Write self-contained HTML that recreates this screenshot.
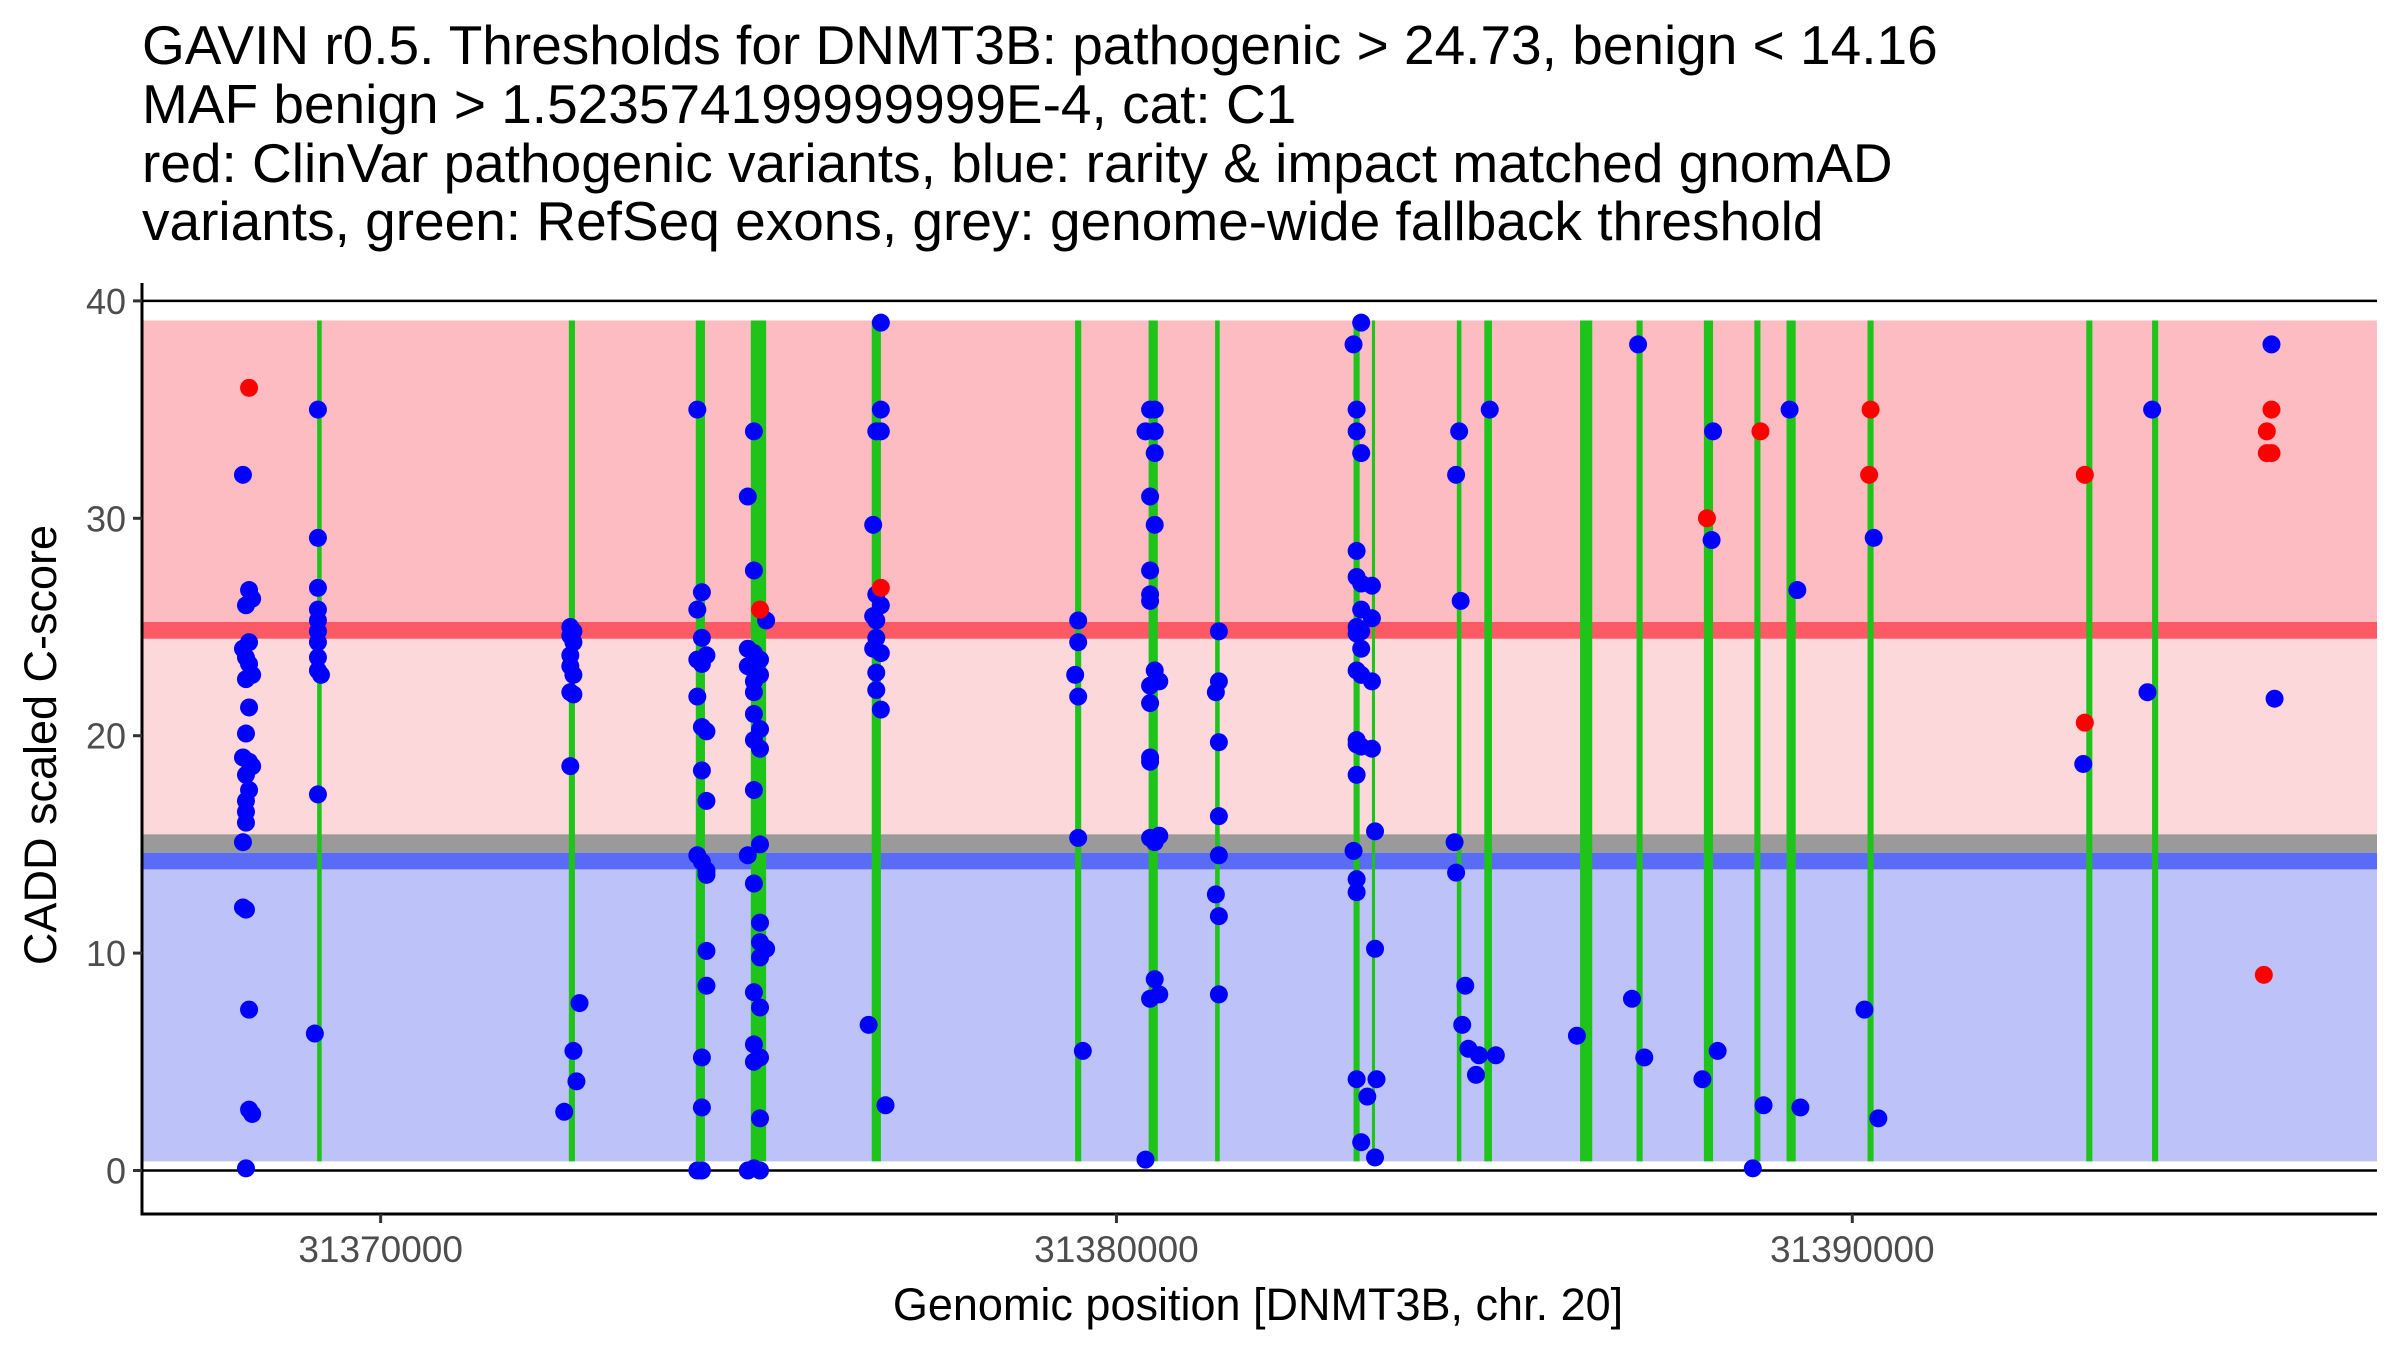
<!DOCTYPE html>
<html><head><meta charset="utf-8"><style>
html,body{margin:0;padding:0;background:#fff}
svg{display:block;font-family:"Liberation Sans",sans-serif}
</style></head><body>
<svg id="chart" width="2400" height="1350" viewBox="0 0 2400 1350">
<g font-size="55" fill="#000">
<text x="142" y="64">GAVIN r0.5. Thresholds for DNMT3B: pathogenic &gt; 24.73, benign &lt; 14.16</text>
<text x="142" y="123">MAF benign &gt; 1.523574199999999E-4, cat: C1</text>
<text x="142" y="182">red: ClinVar pathogenic variants, blue: rarity &amp; impact matched gnomAD</text>
<text x="142" y="240">variants, green: RefSeq exons, grey: genome-wide fallback threshold</text>
</g>
<g id="bands"></g>
<g id="exons"></g>
<g id="hlines"></g>
<g id="points"></g>
<g id="axes"></g>
<text x="1258" y="1320" font-size="45" text-anchor="middle" fill="#000">Genomic position [DNMT3B, chr. 20]</text>
<text transform="translate(56,745) rotate(-90)" font-size="45" text-anchor="middle" fill="#000">CADD scaled C-score</text>
</svg>
<script>
const bandLow=[0.42,13.85,14.62,15.47,24.46,25.24];
const bandHigh=[13.85,14.62,15.47,24.46,25.24,39.1];
const bandColors=["#bdc3f9","#5a6cf6","#9a9a9a","#fdd8db","#fd5a66","#fcbcc1"];
const bandNames=["benign-region","benign-threshold","fallback-threshold","intermediate-region","pathogenic-threshold","pathogenic-region"];
const exonStart=[31369137,31372558,31374283,31375031,31376674,31379438,31380437,31381341,31383222,31383472,31384626,31384999,31386300,31387068,31387983,31388669,31389106,31390207,31393180,31394074];
const exonEnd=[31369199,31372641,31374408,31375239,31376799,31379521,31380562,31381403,31383305,31383514,31384688,31385103,31386466,31387151,31388108,31388752,31389231,31390290,31393263,31394157];
const bluePos=[
31368129,31368212,31368254,31368170,31368212,31368129,31368170,31368212,31368254,31368170,31368212,31368170,31368129,31368212,31368254,31368170,31368212,31368170,31368170,31368170,31368129,31368129,31368170,31368212,31368212,31368254,31368170,
31369148,31369148,31369148,31369148,31369148,31369148,31369148,31369148,31369148,31369189,31369148,31369106,
31372578,31372620,31372578,31372620,31372578,31372578,31372620,31372578,31372620,31372578,31372703,31372620,31372661,31372495,
31374304,31374366,31374304,31374366,31374428,31374304,31374366,31374304,31374366,31374428,31374366,31374428,31374304,31374366,31374428,31374428,31374428,31374428,31374366,31374366,31374304,31374366,
31375073,31374990,31375073,31375239,31374990,31375073,31375156,31374990,31375073,31375156,31375073,31375073,31375073,31375156,31375073,31375156,31375073,31375156,31374990,31375073,31375156,31375156,31375239,31375156,31375073,31375156,31375073,31375156,31375073,31375156,31375073,31374990,31375156,
31376798,31376798,31376736,31376798,31376694,31376736,31376798,31376694,31376736,31376736,31376694,31376798,31376736,31376736,31376798,31376632,31376861,
31379480,31379480,31379439,31379480,31379480,31379543,
31380457,31380520,31380395,31380520,31380520,31380457,31380520,31380457,31380457,31380457,31380520,31380582,31380457,31380457,31380457,31380457,31380457,31380520,31380582,31380520,31380582,31380457,31380395,
31381392,31381392,31381351,31381392,31381392,31381392,31381351,31381392,31381392,
31383326,31383222,31383264,31383264,31383326,31383264,31383264,31383326,31383472,31383326,31383472,31383264,31383326,31383264,31383326,31383264,31383326,31383472,31383264,31383264,31383326,31383472,31383264,31383514,31383222,31383264,31383264,31383514,31383264,31383534,31383409,31383326,31383514,
31384657,31384616,31384678,31384595,31384616,31384740,31384699,31384782,31384927,31384886,31385156,31385073,
31386258,31387089,31387006,31387173,31388088,31388108,31387963,31388170,31388648,31388794,31389148,31389253,31389295,31390291,31390166,31390354,31393139,31394075,31394012,31395697,31395739];
const blueScore=[
32,26.7,26.3,26,24.3,24,23.6,23.3,22.8,22.6,21.3,20.1,19,18.8,18.6,18.2,17.5,17,16.5,16,15.1,12.1,12,7.4,2.8,2.6,0.1,
35,29.1,26.8,25.8,25.3,24.8,24.3,23.6,23,22.8,17.3,6.3,
25,24.8,24.6,24.3,23.7,23.2,22.8,22,21.9,18.6,7.7,5.5,4.1,2.7,
35,26.6,25.8,24.5,23.7,23.5,23.3,21.8,20.4,20.2,18.4,17,14.5,14.2,13.8,13.6,10.1,8.5,5.2,2.9,0,0,
34,31,27.6,25.3,24,23.8,23.5,23.2,23,22.8,22.5,22,21,20.3,19.8,19.4,17.5,15,14.5,13.2,11.4,10.5,10.2,9.8,8.2,7.5,5.8,5.2,5,2.4,0.1,0,0,
39,35,34,34,29.7,26.5,26,25.5,25.3,24.5,24,23.8,22.9,22.1,21.2,6.7,3,
25.3,24.3,22.8,21.8,15.3,5.5,
35,35,34,34,33,31,29.7,27.6,26.5,26.2,23,22.5,22.3,21.5,19,18.8,15.3,15.1,15.4,8.8,8.1,7.9,0.5,
24.8,22.5,22,19.7,16.3,14.5,12.7,11.7,8.1,
39,38,35,34,33,28.5,27.3,27,26.9,25.8,25.4,25,24.8,24.7,24,23,22.8,22.5,19.8,19.6,19.5,19.4,18.2,15.6,14.7,13.4,12.8,10.2,4.2,4.2,3.4,1.3,0.6,
34,32,26.2,15.1,13.7,8.5,6.7,5.6,5.3,4.4,5.3,35,
6.2,38,7.9,5.2,29,34,4.2,5.5,0.1,3,35,26.7,2.9,29.1,7.4,2.4,18.7,35,22,38,21.7];
const redPos=[31368212,31375156,31376798,31388025,31388752,31390249,31390229,31393160,31393160,31395697,31395634,31395634,31395697,31395593];
const redScore=[36,25.8,26.8,30,34,35,32,32,20.6,35,34,33,33,9];
const yTicks=[0,10,20,30,40];
const xTicks=[31370000,31380000,31390000];
const hlineValues=[0,40];

const X0=31366757,X1=31397131,PL=142,PR=2377;
const xs=p=>PL+(p-X0)/(X1-X0)*(PR-PL);
const ys=v=>1170.5-v*21.74;
const NS="http://www.w3.org/2000/svg";
function mk(tag,attrs,parent){const e=document.createElementNS(NS,tag);for(const k in attrs)e.setAttribute(k,attrs[k]);parent.appendChild(e);return e;}
const gB=document.getElementById('bands'),gE=document.getElementById('exons'),gH=document.getElementById('hlines'),gP=document.getElementById('points'),gA=document.getElementById('axes');
bandLow.forEach((lo,i)=>{
  const r=mk('rect',{x:PL,y:ys(bandHigh[i]),width:PR-PL,height:ys(lo)-ys(bandHigh[i]),fill:bandColors[i]},gB);
  
  
});
exonStart.forEach((s,i)=>{
  const r=mk('rect',{x:xs(s),y:ys(39.1),width:Math.max(2,xs(exonEnd[i])-xs(s)),height:ys(0.42)-ys(39.1),fill:"#1fc41a"},gE);
  
  
});
hlineValues.forEach(v=>{
  const l=mk('line',{x1:PL,x2:PR,y1:ys(v),y2:ys(v),stroke:"#000","stroke-width":2.5},gH);
  
  
});
bluePos.forEach((p,i)=>{
  const c=mk('circle',{cx:xs(p),cy:ys(blueScore[i]),r:9,fill:"#0000ff"},gP);
  
  
});
redPos.forEach((p,i)=>{
  const c=mk('circle',{cx:xs(p),cy:ys(redScore[i]),r:9,fill:"#ff0000"},gP);
  
  
});
const ya=mk('line',{x1:PL,x2:PL,y1:283,y2:1215,stroke:"#000","stroke-width":3},gA);


const xa=mk('line',{x1:PL-1.5,x2:PR,y1:1214,y2:1214,stroke:"#000","stroke-width":3},gA);


yTicks.forEach(v=>{
  const t=mk('line',{x1:PL-9,x2:PL,y1:ys(v),y2:ys(v),stroke:"#333","stroke-width":3},gA);
  
  
  const l=mk('text',{x:PL-16,y:ys(v)+13,"font-size":36,"text-anchor":"end",fill:"#4d4d4d"},gA);
  l.textContent=v;
  
  
});
xTicks.forEach(v=>{
  const t=mk('line',{x1:xs(v),x2:xs(v),y1:1214,y2:1223,stroke:"#333","stroke-width":3},gA);
  
  
  const l=mk('text',{x:xs(v),y:1262,"font-size":37,"text-anchor":"middle",fill:"#4d4d4d"},gA);
  l.textContent=v;
  
  
});
</script>
</body></html>
